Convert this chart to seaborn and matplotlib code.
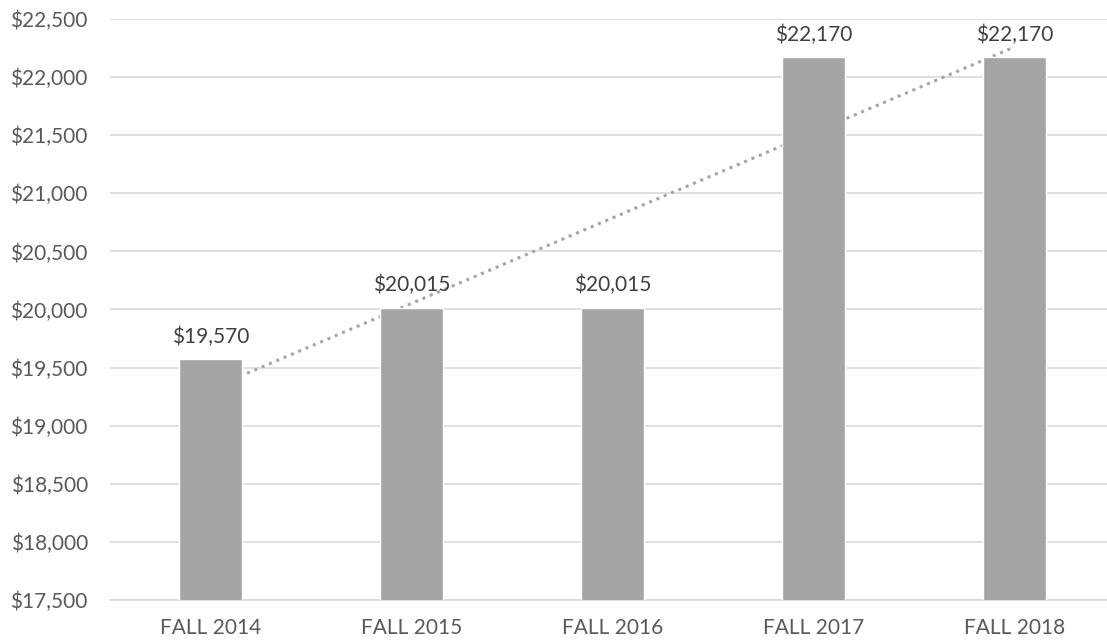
import numpy as np
import pandas as pd
import matplotlib.pyplot as plt
import seaborn as sns
from matplotlib.ticker import FuncFormatter

terms = ["FALL 2014", "FALL 2015", "FALL 2016", "FALL 2017", "FALL 2018"]
tuition = [19570, 20015, 20015, 22170, 22170]

df = pd.DataFrame({"Term": terms, "Tuition": tuition})

sns.set_theme(style="white")
plt.rcParams['font.family'] = ['Lato', 'DejaVu Sans']

fig = plt.figure(figsize=(11.07, 6.43), dpi=100)
ax = fig.add_axes([110 / 1107, 43 / 643, 1005 / 1107, 581 / 643])

bar_color = "#a5a5a5"
text_color = "#595959"

# linear trendline (drawn behind the bars)
x = np.arange(len(tuition))
slope, intercept = np.polyfit(x, tuition, 1)
ax.plot(x, slope * x + intercept, linestyle=(0, (1, 1.6)), color=bar_color,
        linewidth=2.2, zorder=2)

sns.barplot(data=df, x="Term", y="Tuition", color=bar_color, width=0.315,
            saturation=1, ax=ax, zorder=3)

for i, v in enumerate(tuition):
    ax.annotate("${:,}".format(v), (i, v), xytext=(0, 9), textcoords="offset points",
                ha="center", va="bottom", fontsize=15, color="#404040")

ax.set_ylim(17500, 22500)
ax.set_xlim(-0.5, 4.5)
ax.set_yticks(np.arange(17500, 22501, 500))
ax.yaxis.set_major_formatter(FuncFormatter(lambda v, p: "${:,.0f}".format(v)))
ax.grid(axis="y", color="#d9d9d9", linewidth=1.2, zorder=0)
ax.set_axisbelow(True)
for s in ["top", "right", "left"]:
    ax.spines[s].set_visible(False)
ax.spines["bottom"].set_color("#d9d9d9")
ax.spines["bottom"].set_linewidth(1.2)
ax.tick_params(axis="both", labelsize=15, colors=text_color, length=0)
ax.tick_params(axis="y", pad=16)
ax.tick_params(axis="x", pad=13)
ax.set_xlabel("")
ax.set_ylabel("")

plt.savefig("out.png", dpi=100)
